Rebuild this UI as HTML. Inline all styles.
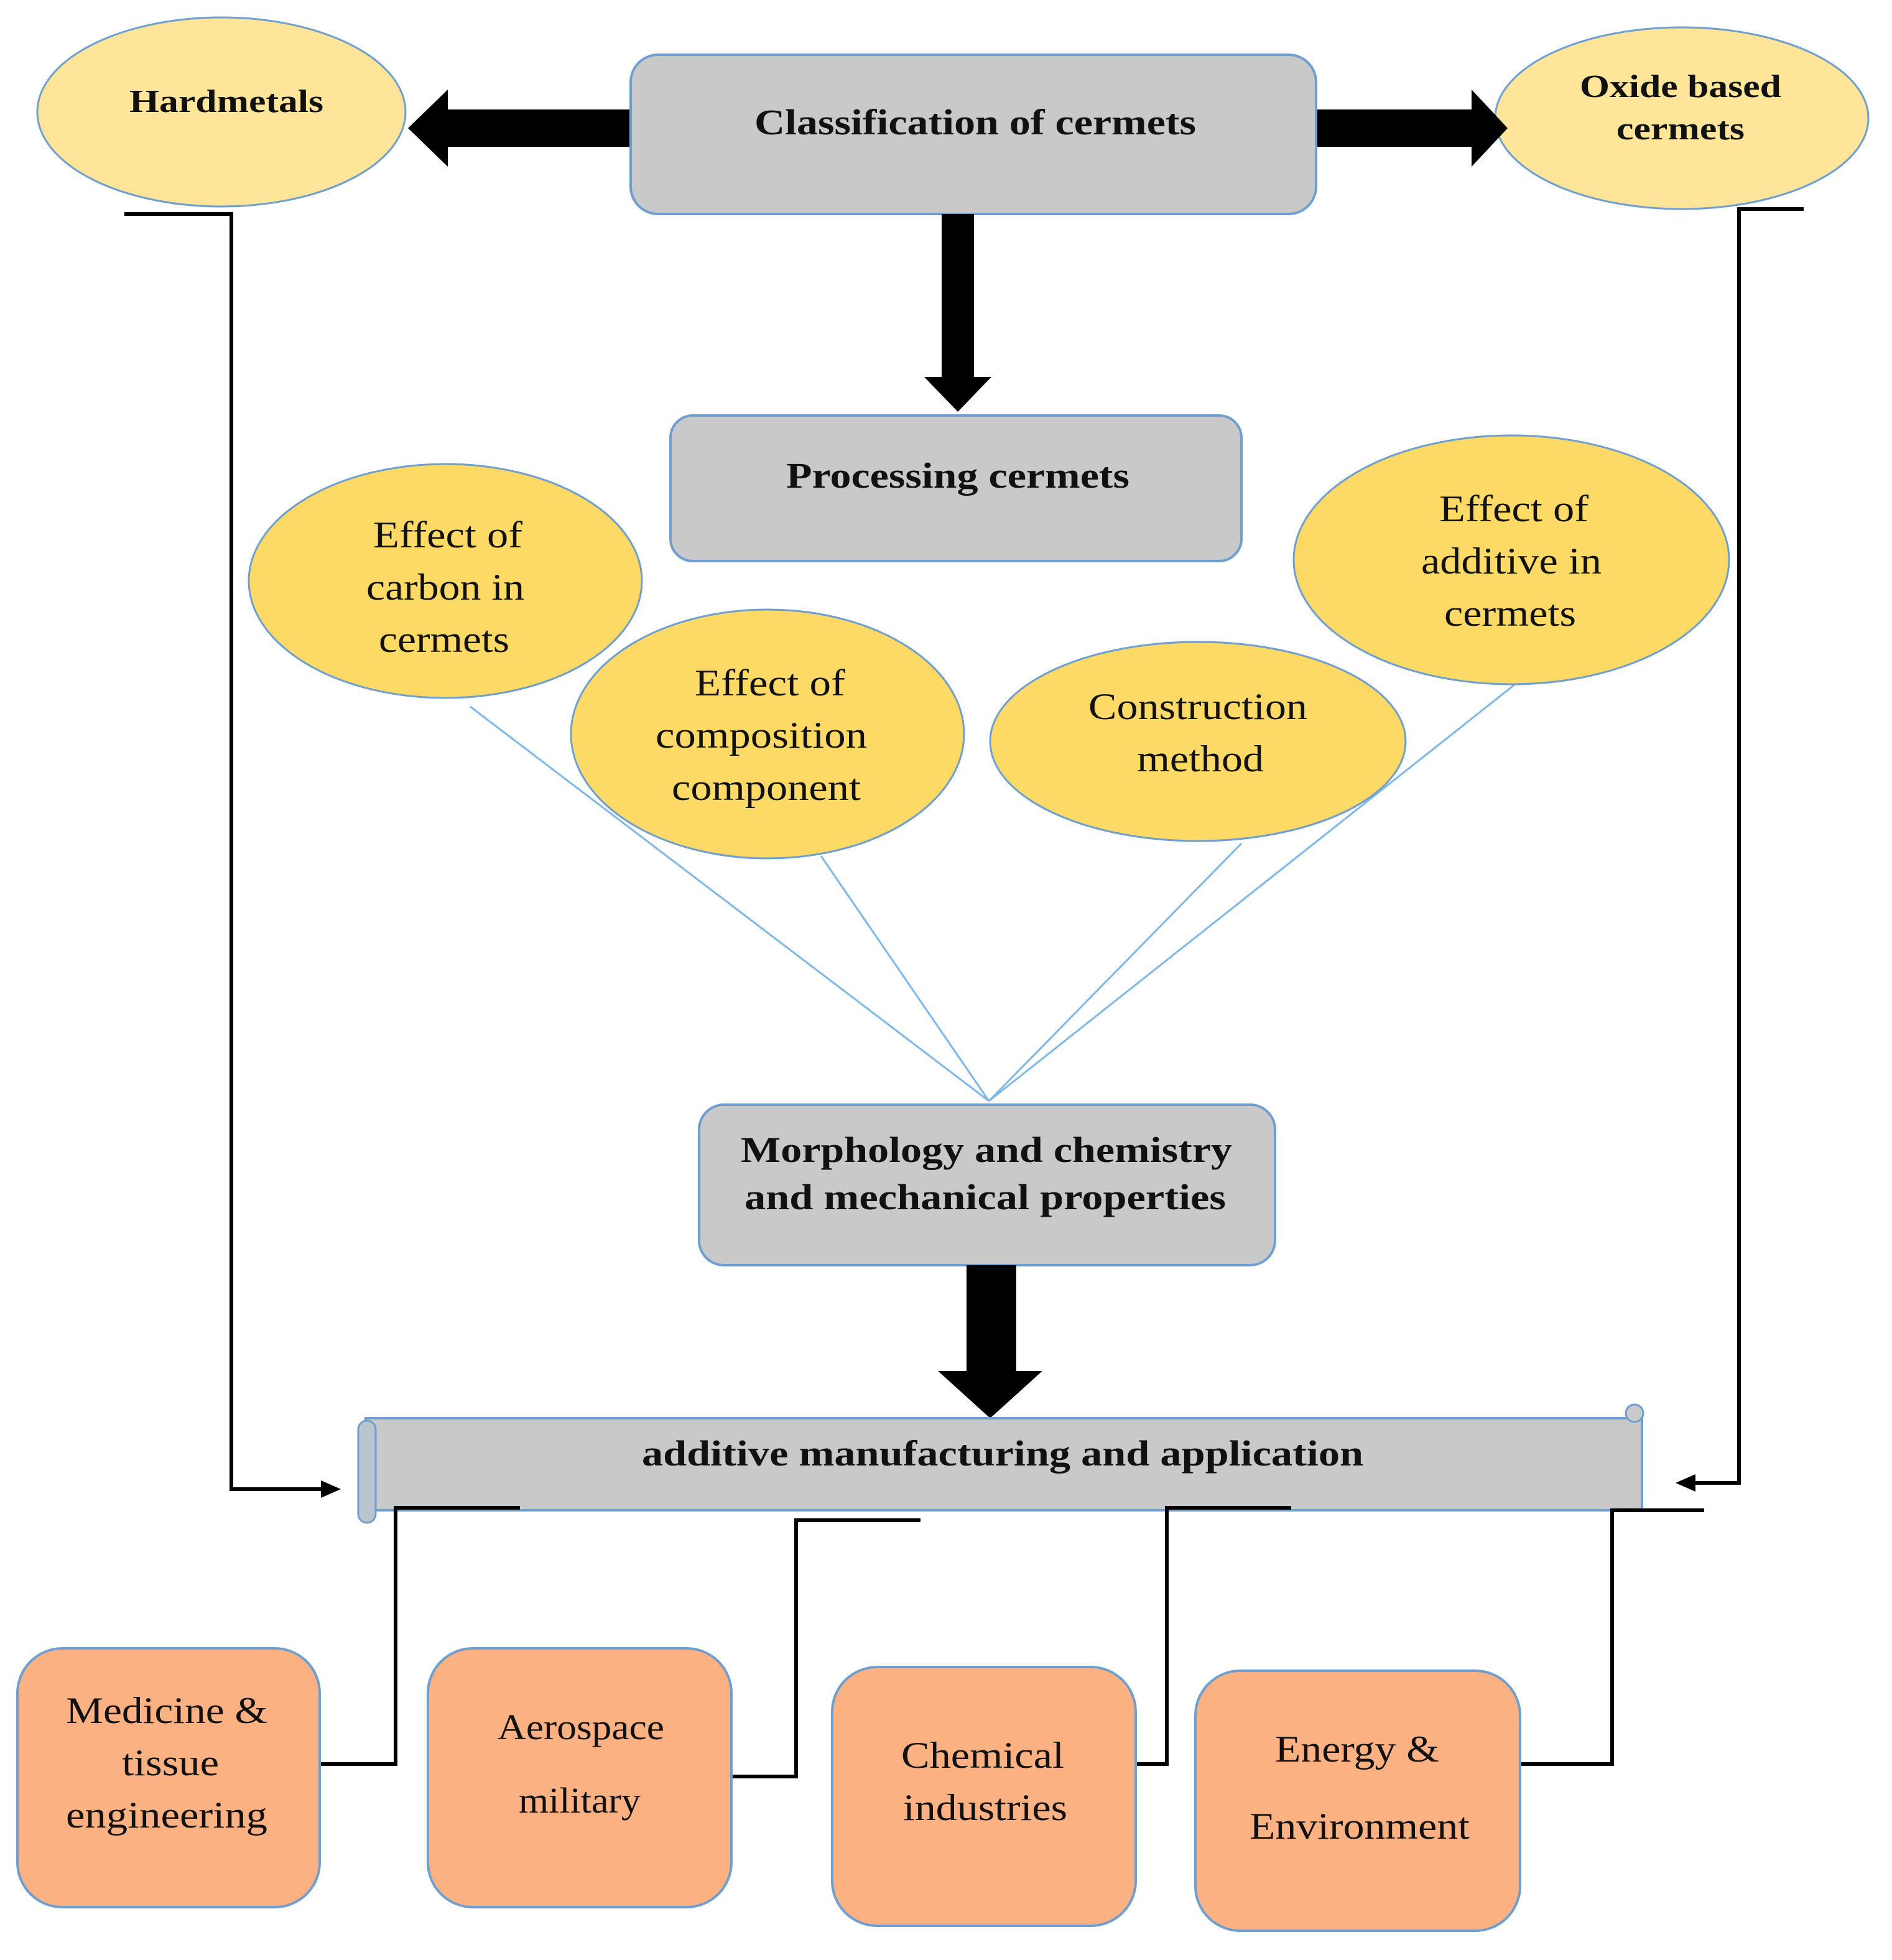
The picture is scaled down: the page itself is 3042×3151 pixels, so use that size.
<!DOCTYPE html>
<html><head><meta charset="utf-8"><style>
html,body{margin:0;padding:0;background:#fff;}
svg{display:block;}
text{font-family:"Liberation Serif",serif;fill:#111;text-anchor:middle;}
.b{font-weight:bold;}
</style></head><body>
<svg width="3042" height="3151" viewBox="0 0 1521 1575.5" xmlns="http://www.w3.org/2000/svg">
<rect width="1521" height="1576" fill="#fff"/>
<polyline points="100,172 186,172 186,1197 262,1197" fill="none" stroke="#000" stroke-width="3"/>
<polygon points="274,1197 258,1190 258,1204" fill="#000"/>
<polyline points="1450,168 1398,168 1398,1192 1360,1192" fill="none" stroke="#000" stroke-width="3"/>
<polygon points="1347,1192 1363,1185 1363,1199" fill="#000"/>
<ellipse cx="178" cy="90" rx="148" ry="76" fill="#fee599" stroke="#6f9fd0" stroke-width="1.5"/>
<text x="182" y="90" font-size="26" class="b" textLength="156" lengthAdjust="spacingAndGlyphs">Hardmetals</text>
<ellipse cx="1352" cy="95" rx="150" ry="73" fill="#fee599" stroke="#6f9fd0" stroke-width="1.5"/>
<text x="1351" y="78" font-size="26" class="b" textLength="162" lengthAdjust="spacingAndGlyphs">Oxide based</text>
<text x="1351" y="112" font-size="26" class="b" textLength="103" lengthAdjust="spacingAndGlyphs">cermets</text>
<polygon points="507,88 360,88 360,72 328,103 360,134 360,118 507,118" fill="#000"/>
<polygon points="1058,88 1183,88 1183,72 1212,103 1183,134 1183,118 1058,118" fill="#000"/>
<rect x="507" y="44" width="551" height="128" rx="22" fill="#c9c9c9" stroke="#6f9fd0" stroke-width="2"/>
<text x="784" y="108" font-size="29" class="b" textLength="355" lengthAdjust="spacingAndGlyphs">Classification of cermets</text>
<polygon points="757,172 783,172 783,303 797,303 770,331 743,303 757,303" fill="#000"/>
<rect x="539" y="334" width="459" height="117" rx="18" fill="#c9c9c9" stroke="#6f9fd0" stroke-width="2"/>
<text x="770" y="392" font-size="29" class="b" textLength="276" lengthAdjust="spacingAndGlyphs">Processing cermets</text>
<g stroke="#7fb8e6" stroke-width="1.5">
<line x1="378" y1="568" x2="795" y2="885"/>
<line x1="660" y1="688" x2="795" y2="885"/>
<line x1="998" y1="678" x2="795" y2="885"/>
<line x1="1218" y1="550" x2="795" y2="885"/>
</g>
<ellipse cx="358" cy="467" rx="158" ry="94" fill="#fdd966" stroke="#6f9fd0" stroke-width="1.5"/>
<text x="360" y="440" font-size="30" textLength="120" lengthAdjust="spacingAndGlyphs">Effect of</text>
<text x="358" y="482" font-size="30" textLength="127" lengthAdjust="spacingAndGlyphs">carbon in</text>
<text x="357" y="524" font-size="30" textLength="105" lengthAdjust="spacingAndGlyphs">cermets</text>
<ellipse cx="1215" cy="450" rx="175" ry="100" fill="#fdd966" stroke="#6f9fd0" stroke-width="1.5"/>
<text x="1217" y="419" font-size="30" textLength="120" lengthAdjust="spacingAndGlyphs">Effect of</text>
<text x="1215" y="461" font-size="30" textLength="145" lengthAdjust="spacingAndGlyphs">additive in</text>
<text x="1214" y="503" font-size="30" textLength="106" lengthAdjust="spacingAndGlyphs">cermets</text>
<ellipse cx="617" cy="590" rx="158" ry="100" fill="#fdd966" stroke="#6f9fd0" stroke-width="1.5"/>
<text x="619" y="559" font-size="30" textLength="121" lengthAdjust="spacingAndGlyphs">Effect of</text>
<text x="612" y="601" font-size="30" textLength="170" lengthAdjust="spacingAndGlyphs">composition</text>
<text x="616" y="643" font-size="30" textLength="152" lengthAdjust="spacingAndGlyphs">component</text>
<ellipse cx="963" cy="596" rx="167" ry="80" fill="#fdd966" stroke="#6f9fd0" stroke-width="1.5"/>
<text x="963" y="578" font-size="30" textLength="176" lengthAdjust="spacingAndGlyphs">Construction</text>
<text x="965" y="620" font-size="30" textLength="102" lengthAdjust="spacingAndGlyphs">method</text>
<rect x="562" y="888" width="463" height="129" rx="20" fill="#c9c9c9" stroke="#6f9fd0" stroke-width="2"/>
<text x="793" y="934" font-size="29" class="b" textLength="395" lengthAdjust="spacingAndGlyphs">Morphology and chemistry</text>
<text x="792" y="972" font-size="29" class="b" textLength="387" lengthAdjust="spacingAndGlyphs">and mechanical properties</text>
<polygon points="777,1017 817,1017 817,1102 838,1102 796,1140 754,1102 777,1102" fill="#000"/>
<rect x="294" y="1140" width="1026" height="74" fill="#c9c9c9" stroke="#6f9fd0" stroke-width="2"/>
<rect x="288" y="1142" width="14" height="82" rx="7" fill="#b9c4cf" stroke="#6f9fd0" stroke-width="1.5"/>
<circle cx="1314" cy="1136" r="7" fill="#c9c9c9" stroke="#6f9fd0" stroke-width="1.5"/>
<text x="806" y="1178" font-size="29" class="b" textLength="580" lengthAdjust="spacingAndGlyphs">additive manufacturing and application</text>
<g fill="none" stroke="#000" stroke-width="3">
<polyline points="257,1418 318,1418 318,1212 418,1212"/>
<polyline points="588,1428 640,1428 640,1222 740,1222"/>
<polyline points="913,1418 938,1418 938,1212 1038,1212"/>
<polyline points="1222,1418 1296,1418 1296,1214 1370,1214"/>
</g>
<g fill="#fbb182" stroke="#6f9fd0" stroke-width="2">
<rect x="14" y="1325" width="243" height="208" rx="36"/>
<rect x="344" y="1325" width="244" height="208" rx="36"/>
<rect x="669" y="1340" width="244" height="208" rx="36"/>
<rect x="961" y="1343" width="261" height="209" rx="36"/>
</g>
<text x="134" y="1385" font-size="30" textLength="162" lengthAdjust="spacingAndGlyphs">Medicine &amp;</text>
<text x="137" y="1427" font-size="30" textLength="78" lengthAdjust="spacingAndGlyphs">tissue</text>
<text x="134" y="1469" font-size="30" textLength="162" lengthAdjust="spacingAndGlyphs">engineering</text>
<text x="467" y="1398" font-size="29" textLength="134" lengthAdjust="spacingAndGlyphs">Aerospace</text>
<text x="466" y="1457" font-size="29" textLength="98" lengthAdjust="spacingAndGlyphs">military</text>
<text x="790" y="1421" font-size="30" textLength="131" lengthAdjust="spacingAndGlyphs">Chemical</text>
<text x="792" y="1463" font-size="30" textLength="132" lengthAdjust="spacingAndGlyphs">industries</text>
<text x="1091" y="1416" font-size="30" textLength="132" lengthAdjust="spacingAndGlyphs">Energy &amp;</text>
<text x="1093" y="1478" font-size="30" textLength="177" lengthAdjust="spacingAndGlyphs">Environment</text>
</svg>
</body></html>
